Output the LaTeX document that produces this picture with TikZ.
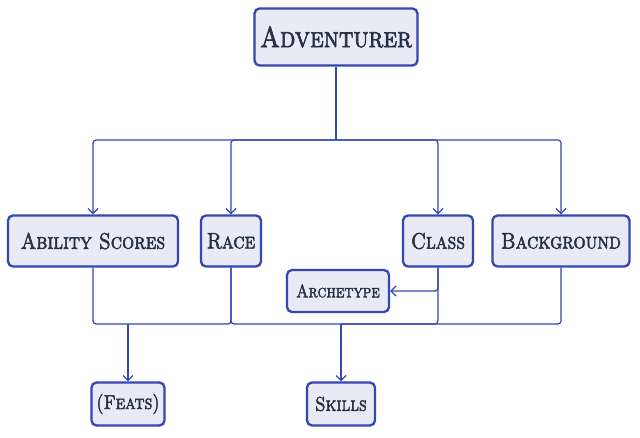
\documentclass[tikz,border=0pt]{standalone}
\usepackage{fontspec}
\usepackage{tikz}
\usetikzlibrary{arrows.meta,positioning}
\definecolor{lineblue}{HTML}{3445B4}
\definecolor{boxfill}{HTML}{E8EAF6}
\definecolor{inkslate}{HTML}{243244}
\newfontfamily\capsfont{Latin Modern Roman Caps}[FakeBold=2.2,FakeStretch=0.85]
\newcommand{\lbl}[1]{\fontsize{#1}{#1}\selectfont\capsfont}

\begin{document}
\begin{tikzpicture}[
 x=1pt, y=-1pt, >={Straight Barb[length=5pt,width=10pt]},
 box/.style={draw=lineblue, line width=2.3pt, rounded corners=5pt, fill=boxfill,
  text=inkslate, inner sep=0pt},
 conn/.style={draw=lineblue, line width=1.2pt, rounded corners=3pt}]
\useasboundingbox (0,0) rectangle (640,438);
\node[box, minimum width=163pt, minimum height=57pt, font=\lbl{29}] (adv) at (336,37) {Adventurer};
\node[box, minimum width=170pt, minimum height=51pt, font=\lbl{22.5}] (abil) at (93,241) {Ability Scores};
\node[box, minimum width=60pt, minimum height=51pt, font=\lbl{22.5}] (race) at (231,241) {Race};
\node[box, minimum width=70pt, minimum height=51pt, font=\lbl{22.5}] (class) at (438,241) {Class};
\node[box, minimum width=137pt, minimum height=51pt, font=\lbl{22.5}] (bg) at (561,241) {Background};
\node[box, minimum width=102pt, minimum height=42pt, font=\lbl{18}] (arch) at (338,291) {Archetype};
\node[box, minimum width=73pt, minimum height=43pt, font=\lbl{20}] (feats) at (128,404) {(Feats)};
\node[box, minimum width=68pt, minimum height=43pt, font=\lbl{20}] (skills) at (341,404) {Skills};
\coordinate (hub) at (336,140);
\coordinate (fj) at (128,324);
\coordinate (sj) at (341,324);
% top level split
\draw[conn] (adv.south) -- (hub);
\draw[conn,->] (hub) -| (abil.north);
\draw[conn,->] (hub) -| (race.north);
\draw[conn,->] (hub) -| (class.north);
\draw[conn,->] (hub) -| (bg.north);
% class to archetype
\draw[conn,->] (class.south) |- (arch.east);
% merges below
\draw[conn] (abil.south) |- (fj);
\draw[conn] (race.south) |- (fj);
\draw[conn,->] (fj) -- (feats.north);
\draw[conn] (race.south) |- (sj);
\draw[conn] (class.south) |- (sj);
\draw[conn] (bg.south) |- (sj);
\draw[conn,->] (sj) -- (skills.north);
\end{tikzpicture}
\end{document}
